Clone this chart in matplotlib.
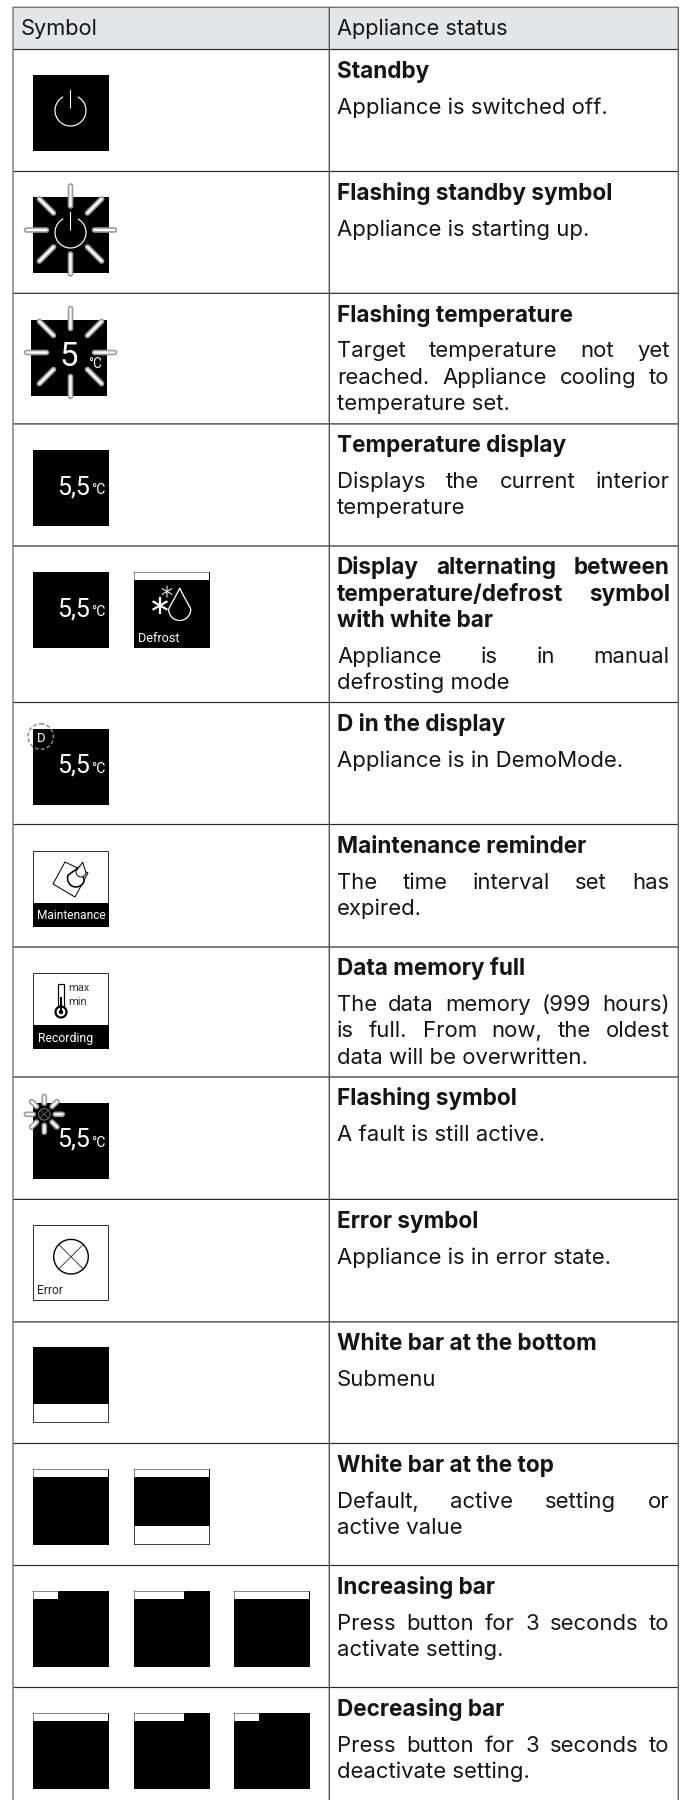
# status symbol table, drawn in pixel coordinates of the page
import numpy as np
import matplotlib
matplotlib.use("Agg")
import matplotlib.pyplot as plt
from matplotlib.patches import Rectangle, Circle, Arc, Polygon, PathPatch
from matplotlib.path import Path

header = ["Symbol", "Appliance status"]

titles = [
    ["Standby"],
    ["Flashing standby symbol"],
    ["Flashing temperature"],
    ["Temperature display"],
    ["Display alternating between", "temperature/defrost symbol", "with white bar"],
    ["D in the display"],
    ["Maintenance reminder"],
    ["Data memory full"],
    ["Flashing symbol"],
    ["Error symbol"],
    ["White bar at the bottom"],
    ["White bar at the top"],
    ["Increasing bar"],
    ["Decreasing bar"],
]

descriptions = [
    ["Appliance is switched off."],
    ["Appliance is starting up."],
    ["Target temperature not yet", "reached. Appliance cooling to", "temperature set."],
    ["Displays the current interior", "temperature"],
    ["Appliance is in manual", "defrosting mode"],
    ["Appliance is in DemoMode."],
    ["The time interval set has", "expired."],
    ["The data memory (999 hours)", "is full. From now, the oldest", "data will be overwritten."],
    ["A fault is still active."],
    ["Appliance is in error state."],
    ["Submenu"],
    ["Default, active setting or", "active value"],
    ["Press button for 3 seconds to", "activate setting."],
    ["Press button for 3 seconds to", "deactivate setting."],
]

# row lines, .5 = crisp on one pixel
row_lines = [49.5, 171.5, 293.3, 423.9, 546.0, 702.5, 824.5, 947.0, 1077.0, 1199.4, 1321.9, 1443.5, 1565.5, 1687.5]
box_tops = [75, 197, 320, 450, 572, 729, 851, 973, 1103, 1225, 1347, 1469, 1591, 1713]
col_x = [33, 134, 234]

BOX = 76
BODY = "Inter"
ICON = "Roboto"
INK = "#151515"

fig = plt.figure(figsize=(6.86, 18), dpi=100)
ax = fig.add_axes([0, 0, 1, 1])
ax.set_xlim(0, 686)
ax.set_ylim(1800, 0)
ax.axis("off")
renderer = fig.canvas.get_renderer()


def px(size):
    return size * 0.72


def hline(y, x0=13, x1=678.5, color="#2b2b2b", lw=1.2):
    ax.plot([x0, x1], [y, y], color=color, lw=px(lw), solid_capstyle="butt", snap=False, zorder=3)


def vline(x, y0=7, y1=1800, color="#555555", lw=1.4):
    ax.plot([x, x], [y0, y1], color=color, lw=px(lw), solid_capstyle="butt", snap=False, zorder=3)


def rect(x, y, w, h, fc="black", ec="none", lw=0, z=4):
    ax.add_patch(Rectangle((x, y), w, h, fc=fc, ec=ec, lw=px(lw), snap=False, zorder=z))


def label(x, y, s, size, color="white", z=7, family=ICON, weight="normal"):
    ax.text(x, y, s, fontsize=px(size), color=color, family=family, weight=weight,
            va="baseline", ha="left", zorder=z)


def put_line(s, y, weight, justify, size, x0=337, x1=669.7):
    if not justify:
        label(x0, y, s, size, INK, 5, BODY, weight)
        return
    words = s.split(" ")
    items = []
    widths = []
    for w in words:
        t = ax.text(x0, y, w, fontsize=px(size), color=INK, family=BODY, weight=weight,
                    va="baseline", ha="left", zorder=5)
        items.append(t)
        widths.append(t.get_window_extent(renderer).width)
    gap = (x1 - x0 - sum(widths)) / (len(words) - 1)
    x = x0
    for t, w in zip(items, widths):
        t.set_x(x)
        x += w + gap


def rays(cx, cy, r0, r1, lw_out=5.6, lw_in=2.3):
    for a in np.arange(0, 360, 45):
        c, s = np.cos(np.radians(a)), np.sin(np.radians(a))
        xs = [cx + r0 * c, cx + r1 * c]
        ys = [cy + r0 * s, cy + r1 * s]
        ax.plot(xs, ys, color="#9a9a9a", lw=px(lw_out), solid_capstyle="round", zorder=5, snap=False)
        ax.plot(xs, ys, color="white", lw=px(lw_in), solid_capstyle="round", zorder=6, snap=False)


def power(x, y):
    cx, cy = x + 37.5, y + 35.5
    ax.add_patch(Arc((cx, cy), 31, 31, theta1=-62, theta2=242, color="white", lw=px(1.2), zorder=7))
    ax.plot([cx, cx], [y + 15.5, y + 33], color="white", lw=px(1.1), zorder=7, snap=False)


def temp(x, y):
    label(x + 24.3, y + 44, "5,5", 25)
    label(x + 58.5, y + 44, "°C", 14)


def white_box(x, y):
    rect(x + 0.5, y + 0.5, BOX - 1, BOX - 1, "white", "#333333", 1.0)


def top_bar(x, y, w=74):
    # white bar with thin grey frame along the top edge
    rect(x, y, BOX, BOX)
    rect(x + 1, y + 1, w, 7, "white", z=5)
    ax.plot([x, x + w + 1], [y + 0.5, y + 0.5], color="#888888", lw=px(1), zorder=6, snap=False)
    ax.plot([x + 0.5, x + 0.5], [y, y + 8], color="#888888", lw=px(1), zorder=6, snap=False)


def bottom_white(x, y):
    rect(x + 1, y + 57, BOX - 2, 18, "white", z=5)
    ax.plot([x + 0.5, x + 0.5, x + BOX - 0.5, x + BOX - 0.5], [y + 57, y + BOX - 0.5, y + BOX - 0.5, y + 57],
            color="#444444", lw=px(1), zorder=6, snap=False)


def drop(cx, top, bottom, r, lw=1.3, ec="white", fc="none", z=7, angle=0):
    cy = bottom - r
    k = 0.55
    verts = [(0, top - cy), (r * 0.35, top - cy + (cy - top) * 0.42), (r, -r * 0.2), (r, 0),
             (r, r * k), (r * k, r), (0, r), (-r * k, r), (-r, r * k), (-r, 0),
             (-r, -r * 0.2), (-r * 0.35, top - cy + (cy - top) * 0.42), (0, top - cy)]
    a = np.radians(angle)
    rot = [(cx + vx * np.cos(a) - vy * np.sin(a), cy + vx * np.sin(a) + vy * np.cos(a)) for vx, vy in verts]
    codes = [Path.MOVETO] + [Path.CURVE4] * 12
    ax.add_patch(PathPatch(Path(rot, codes), fc=fc, ec=ec, lw=px(lw), zorder=z))


def asterisk(cx, cy, r, lw):
    for a in [90, 30, -30]:
        c, s = np.cos(np.radians(a)), np.sin(np.radians(a))
        ax.plot([cx - r * c, cx + r * c], [cy - r * s, cy + r * s], color="white", lw=px(lw), zorder=7, snap=False)


# ---- table frame ----
rect(13, 7, 665.5, 42, "#e4e5e6", z=1)
hline(7.3, color="#777777", lw=1.4)
for y in row_lines:
    hline(y)
vline(13, color="#777777")
vline(329.3)
vline(678.3, color="#666666")

label(21, 35, header[0], 21.8, INK, 5, BODY)
label(337, 35, header[1], 21.8, INK, 5, BODY)

# ---- right column text ----
for i in range(len(titles)):
    top = row_lines[i]
    y = top + 28.3
    for k, s in enumerate(titles[i]):
        put_line(s, y, "bold", k < len(titles[i]) - 1, 22.6)
        y += 26.5
    y += 9.3
    for k, s in enumerate(descriptions[i]):
        put_line(s, y, "normal", k < len(descriptions[i]) - 1, 22.1)
        y += 26.3

# ---- symbols ----
# standby
rect(col_x[0], box_tops[0], BOX, BOX)
power(col_x[0], box_tops[0])

# flashing standby
rect(col_x[0], box_tops[1], BOX, BOX)
power(col_x[0], box_tops[1])
rays(70.5, box_tops[1] + 33, 24, 44)

# flashing temperature
rect(31, box_tops[2], BOX, BOX)
rays(70.5, box_tops[2] + 32.5, 24, 44)
label(59.5, box_tops[2] + 46, "5", 33)
label(88.5, box_tops[2] + 48, "°C", 13.5)

# temperature
rect(col_x[0], box_tops[3], BOX, BOX)
temp(col_x[0], box_tops[3])

# alternating display / defrost
rect(col_x[0], box_tops[4], BOX, BOX)
temp(col_x[0], box_tops[4])
top_bar(col_x[1], box_tops[4])
asterisk(160, box_tops[4] + 33.5, 7.5, 2.2)
asterisk(167, box_tops[4] + 19.5, 5.5, 1.0)
drop(179.7, box_tops[4] + 16, box_tops[4] + 48.5, 11, 1.3)
label(138, box_tops[4] + 70.5, "Defrost", 12.6)

# D in display
rect(col_x[0], box_tops[5], BOX, BOX)
temp(col_x[0], box_tops[5])
ax.add_patch(Circle((40.7, box_tops[5] + 7.5), 12.7, fc="none", ec="#8a8a8a", lw=px(1.5), ls=(0, (2.5, 1.5)), zorder=6))
label(36.5, box_tops[5] + 13, "D", 13)

# maintenance
y = box_tops[6]
white_box(col_x[0], y)
rect(col_x[0], y + 52, BOX, 24)
label(37, y + 68, "Maintenance", 11.9)
ax.add_patch(Polygon([(65, y + 11), (88, y + 22), (75, y + 46), (53, y + 33)], closed=True, fc="white", ec="black", lw=px(1), zorder=5))
drop(76, y + 14, y + 36, 8.5, 1.6, "black", "white", 6, 20)
drop(81, y + 11, y + 26, 5.0, 1.0, "black", "white", 7, 10)

# recording
y = box_tops[7]
white_box(col_x[0], y)
rect(col_x[0], y + 52, BOX, 24)
label(38, y + 68.7, "Recording", 12.2)
ax.add_patch(Polygon([(58, y + 11), (58, y + 34), (64, y + 34), (64, y + 11)], closed=True, fc="white", ec="black", lw=px(1.2), zorder=5))
ax.add_patch(Circle((61, y + 39), 5.5, fc="white", ec="black", lw=px(2.2), zorder=6))
ax.add_patch(Circle((61, y + 39), 2.2, fc="black", ec="none", zorder=7))
ax.plot([61, 61], [y + 25, y + 38], color="black", lw=px(2), zorder=7)
label(68, y + 18, "max", 11, "#333333")
label(68, y + 32, "min", 11, "#333333")

# flashing symbol
y = box_tops[8]
rect(col_x[0], y, BOX, BOX)
temp(col_x[0], y)
rays(44.3, y + 11.3, 11, 18)
ax.add_patch(Circle((44.3, y + 11.3), 5.8, fc="none", ec="#777777", lw=px(1), zorder=7))
for d in [(-4, -4, 4, 4), (-4, 4, 4, -4)]:
    ax.plot([44.3 + d[0], 44.3 + d[2]], [y + 11.3 + d[1], y + 11.3 + d[3]], color="#777777", lw=px(0.7), zorder=7)

# error
y = box_tops[9]
white_box(col_x[0], y)
ax.add_patch(Circle((71, y + 31.7), 17.3, fc="white", ec="black", lw=px(1.4), zorder=5))
for d in [(-12, -12, 12, 12), (-12, 12, 12, -12)]:
    ax.plot([71 + d[0], 71 + d[2]], [y + 31.7 + d[1], y + 31.7 + d[3]], color="#222222", lw=px(0.8), zorder=6)
label(37, y + 69, "Error", 12, "#222222")

# white bar at bottom
rect(col_x[0], box_tops[10], BOX, BOX)
bottom_white(col_x[0], box_tops[10])

# white bar at top
top_bar(col_x[0], box_tops[11])
top_bar(col_x[1], box_tops[11])
bottom_white(col_x[1], box_tops[11])

# increasing / decreasing
bar_widths = [[24, 49, 74], [74, 49, 24]]
for r, row in enumerate([12, 13]):
    for c in range(3):
        top_bar(col_x[c], box_tops[row], bar_widths[r][c])

fig.savefig("out.png", dpi=100, facecolor="white")
